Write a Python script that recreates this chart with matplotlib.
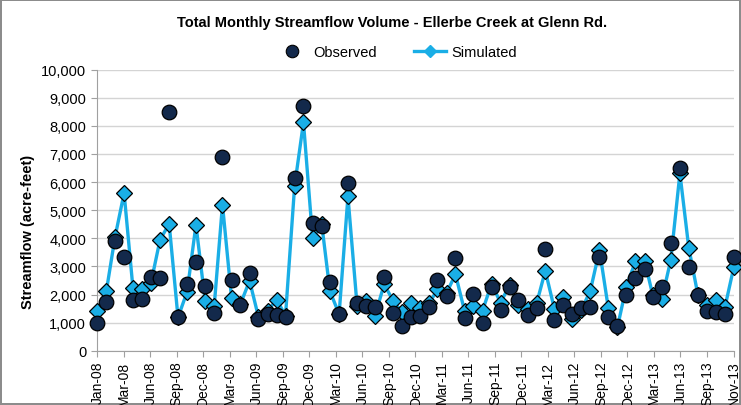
import pandas as pd
import matplotlib
matplotlib.use("Agg")
import matplotlib.pyplot as plt
import matplotlib.dates as mdates
from matplotlib.lines import Line2D

# ---- Data ----
months = pd.date_range("2008-01-01", periods=72, freq="MS")

observed = [
    1000, 1720, 3890, 3345, 1815, 1840, 2610, 2575, 8480, 1210, 2370, 3170,
    2290, 1340, 6880, 2515, 1625, 2765, 1125, 1305, 1280, 1185, 6145, 8720,
    4545, 4450, 2430, 1305, 5965, 1695, 1600, 1565, 2635, 1330, 865, 1185,
    1245, 1540, 2520, 1955, 3300, 1165, 2030, 990, 2280, 1450, 2250, 1800,
    1270, 1520, 3630, 1100, 1610, 1290, 1520, 1550, 3330, 1200, 880, 1965,
    2580, 2890, 1905, 2280, 3835, 6500, 2990, 1965, 1410, 1385, 1320, 3330,
]
simulated = [
    1420, 2135, 4030, 5610, 2230, 2195, 2400, 3950, 4510, 1185, 2100, 4485,
    1780, 1600, 5195, 1860, 1660, 2490, 1210, 1420, 1815, 1245, 5870, 8125,
    4000, 4500, 2110, 1305, 5490, 1600, 1780, 1245, 2370, 1780, 1365, 1695,
    1505, 1695, 2180, 2060, 2720, 1410, 1600, 1430, 2390, 1700, 2350, 1610,
    1500, 1700, 2845, 1480, 1910, 1140, 1440, 2140, 3580, 1510, 840, 2280,
    3180, 3210, 1965, 1855, 3230, 6310, 3670, 1990, 1610, 1790, 1555, 2975,
]

title = "Total Monthly Streamflow Volume - Ellerbe Creek at Glenn Rd."
ylabel = "Streamflow (acre-feet)"

# Excel-style date axis: a tick every 90 days from Jan 1, 2008
tick_dates = pd.date_range("2008-01-01", "2013-11-30", freq="90D")

OBS_COLOR = "#13294b"
SIM_COLOR = "#1aaee6"

plt.rcParams["font.family"] = ["Liberation Sans", "DejaVu Sans"]

fig = plt.figure(figsize=(7.41, 4.06), dpi=100)
fig.patch.set_edgecolor("#8c8c8c")
fig.patch.set_linewidth(1.5)
ax = fig.add_axes([0.1313, 0.1337, 0.8590, 0.6922])

ax.plot(months, simulated, color=SIM_COLOR, lw=2.4, marker="D", ms=8.5,
        mfc=SIM_COLOR, mec="black", mew=0.9, zorder=3, clip_on=False)
ax.plot(months, observed, ls="none", marker="o", ms=10.5,
        mfc=OBS_COLOR, mec="black", mew=0.9, zorder=4, clip_on=False)

ax.set_ylim(0, 10000)
ax.set_yticks(range(0, 10001, 1000))
ax.yaxis.set_major_formatter(matplotlib.ticker.FuncFormatter(lambda v, p: f"{int(v):,}"))
ax.set_xlim(pd.Timestamp("2008-01-01"), pd.Timestamp("2013-12-01"))
ax.set_xticks(tick_dates)
ax.xaxis.set_major_formatter(mdates.DateFormatter("%b-%y"))
ax.tick_params(axis="x", rotation=90, labelsize=10, length=4, color="#a0a0a0", pad=3)
ax.tick_params(axis="y", labelsize=10.5, length=4, color="#a0a0a0", pad=4)

ax.grid(True, axis="y", color="#d4d4d4", lw=1)
ax.set_axisbelow(True)
for s in ["top", "right"]:
    ax.spines[s].set_visible(False)
for s in ["left", "bottom"]:
    ax.spines[s].set_color("#a0a0a0")

fig.text(0.529, 0.943, title, ha="center", va="center", fontsize=10.5,
         fontweight="bold", family=["Liberation Sans Narrow", "Liberation Sans"])
fig.text(0.038, 1 - 232 / 406, ylabel, ha="center", va="center", rotation=90,
         fontsize=10.5, fontweight="bold")

handles = [
    Line2D([], [], ls="none", marker="o", ms=9, mfc=OBS_COLOR, mec="black", mew=0.8),
    Line2D([], [], color=SIM_COLOR, lw=2.4, marker="D", ms=6, mfc=SIM_COLOR, mec=SIM_COLOR),
]
fig.legend(handles, ["Observed", "Simulated"], loc="center", bbox_to_anchor=(0.535, 0.869),
           ncol=2, frameon=False, fontsize=10.5, handlelength=2.2, columnspacing=2.5,
           handletextpad=0.4)

fig.savefig("out.png", dpi=100)
